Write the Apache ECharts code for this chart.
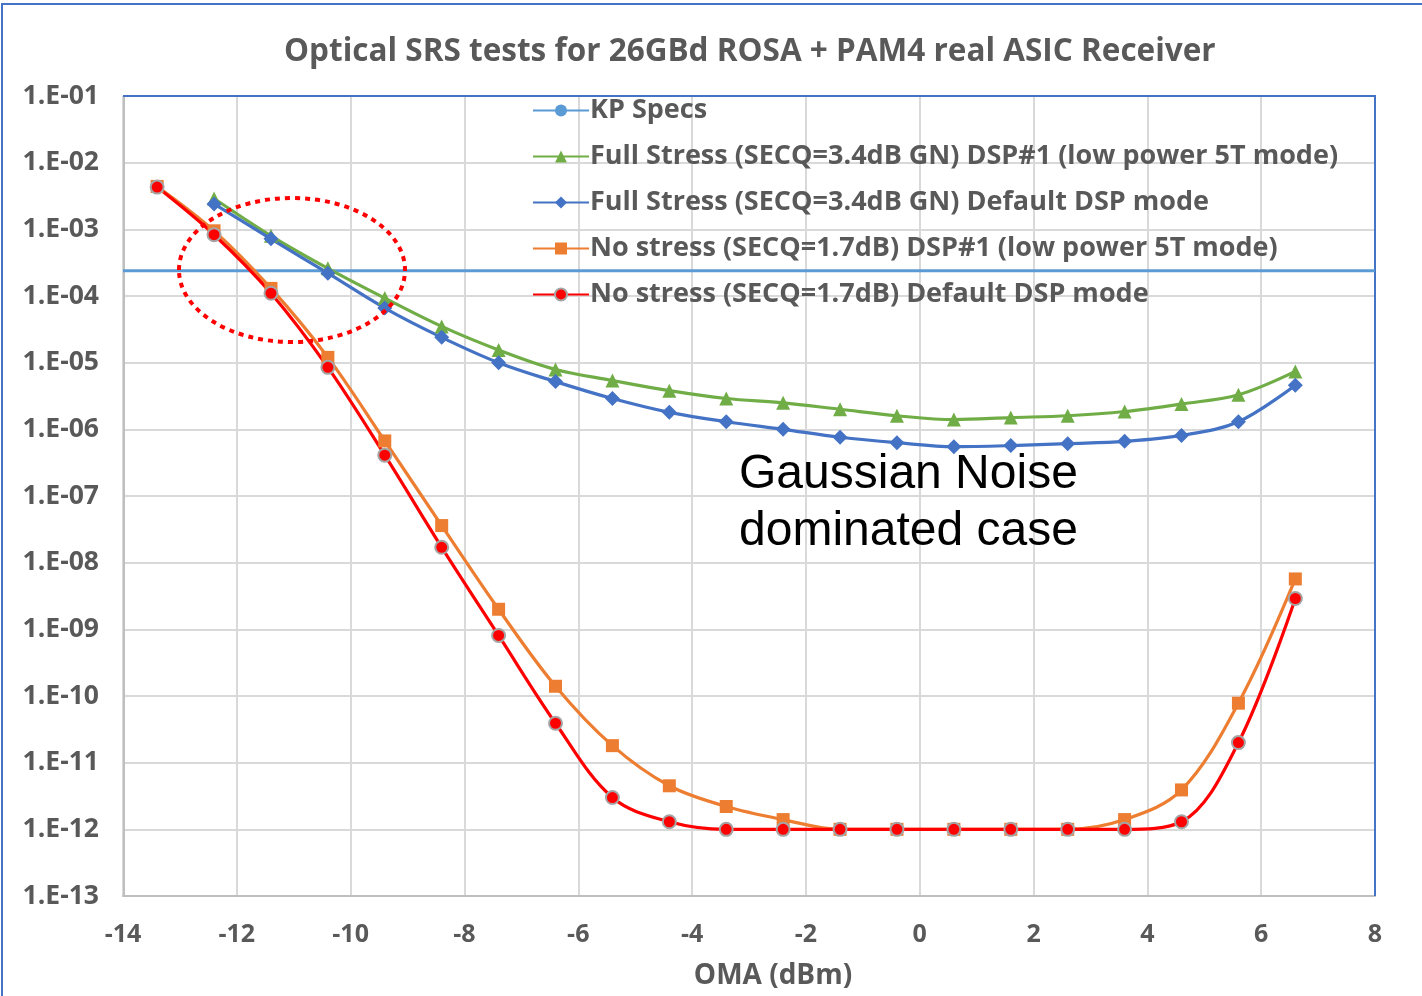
<!DOCTYPE html>
<html>
<head>
<meta charset="utf-8">
<title>Optical SRS tests</title>
<script src="https://cdn.jsdelivr.net/npm/echarts@6/dist/echarts.min.js"></script>
<style>
  html, body { margin: 0; padding: 0; background: #fff; }
  #chart { width: 1422px; height: 996px; }
</style>
</head>
<body>
<div id="chart"></div>
<script>
// OMA points (dBm)
const oma = [-13.4, -12.4, -11.4, -10.4, -9.4, -8.4, -7.4, -6.4, -5.4, -4.4, -3.4,
  -2.4, -1.4, -0.4, 0.6, 1.6, 2.6, 3.6, 4.6, 5.6, 6.6]

const kpSpec = 2.4e-4
const kpRange = [-14, 8]

// null = no measurement at that OMA
const fullStressDsp1 = [null, 2.9e-3, 8.0e-4, 2.6e-4, 9.3e-5, 3.5e-5, 1.55e-5, 7.9e-6, 5.4e-6, 3.8e-6, 2.9e-6,
  2.5e-6, 2.0e-6, 1.6e-6, 1.4e-6, 1.5e-6, 1.6e-6, 1.85e-6, 2.4e-6, 3.3e-6, 7.4e-6]
const fullStressDefault = [null, 2.4e-3, 7.2e-4, 2.2e-4, 6.6e-5, 2.4e-5, 1.0e-5, 5.2e-6, 2.9e-6, 1.8e-6, 1.3e-6,
  1.0e-6, 7.6e-7, 6.3e-7, 5.5e-7, 5.7e-7, 6.1e-7, 6.6e-7, 8.1e-7, 1.3e-6, 4.6e-6]
const noStressDsp1 = [4.4e-3, 9.5e-4, 1.3e-4, 1.2e-5, 6.7e-7, 3.6e-8, 2.0e-9, 1.4e-10, 1.8e-11, 4.5e-12, 2.2e-12,
  1.4e-12, 1e-12, 1e-12, 1e-12, 1e-12, 1e-12, 1.4e-12, 3.9e-12, 7.8e-11, 5.7e-9]
const noStressDefault = [4.3e-3, 8.3e-4, 1.1e-4, 8.5e-6, 4.1e-7, 1.7e-8, 8.1e-10, 3.9e-11, 3.0e-12, 1.3e-12, 1e-12,
  1e-12, 1e-12, 1e-12, 1e-12, 1e-12, 1e-12, 1e-12, 1.3e-12, 2.0e-11, 2.9e-9]

const seriesNames = [
  'KP Specs',
  'Full Stress (SECQ=3.4dB GN) DSP#1 (low power 5T mode)',
  'Full Stress (SECQ=3.4dB GN) Default DSP mode',
  'No stress (SECQ=1.7dB) DSP#1 (low power 5T mode)',
  'No stress (SECQ=1.7dB) Default DSP mode'
]

const pairs = vals => oma.map((x, i) => [x, vals[i]]).filter(p => p[1] !== null)

const textGrey = '#595959'
const uiFont = '"Open Sans", "Noto Sans", sans-serif'

const chart = echarts.init(document.getElementById('chart'))

const lineSeries = (name, vals, color, symbol, size, extra) => Object.assign({
  name,
  type: 'line',
  data: pairs(vals),
  smooth: 0.35,
  symbol,
  symbolSize: size,
  showAllSymbol: true,
  lineStyle: { color, width: 3.2 },
  itemStyle: { color },
  emphasis: { disabled: true }
}, extra || {})

chart.setOption({
  animation: false,
  title: {
    text: 'Optical SRS tests for 26GBd ROSA + PAM4 real ASIC Receiver',
    left: 279,
    top: 31,
    textStyle: { fontFamily: uiFont, fontSize: 31.5, fontWeight: 'bold', color: textGrey }
  },
  legend: {
    orient: 'vertical',
    left: 527,
    top: 90,
    itemWidth: 56,
    itemHeight: 15,
    itemGap: 15,
    data: seriesNames,
    textStyle: { fontFamily: uiFont, fontSize: 27, fontWeight: 'bold', color: textGrey, lineHeight: 31, padding: [0, 0, 0, -4] }
  },
  grid: {
    left: 123,
    right: 47,
    top: 96,
    bottom: 100,
    outerBoundsMode: 'none',
    show: false
  },
  xAxis: {
    type: 'value',
    min: -14,
    max: 8,
    interval: 2,
    name: 'OMA (dBm)',
    nameLocation: 'middle',
    nameGap: 66,
    nameTextStyle: { fontFamily: uiFont, fontSize: 28, fontWeight: 'bold', color: textGrey, padding: [0, 0, 0, 48] },
    axisLine: { show: true, onZero: false, lineStyle: { color: '#BFBFBF', width: 2 } },
    axisTick: { show: false },
    axisLabel: { fontFamily: uiFont, fontSize: 25, fontWeight: 'bold', color: textGrey, margin: 26 },
    splitLine: { show: true, showMaxLine: false, lineStyle: { color: '#D9D9D9', width: 2 } }
  },
  yAxis: {
    type: 'log',
    logBase: 10,
    min: 1e-13,
    max: 1e-1,
    interval: 1,
    axisLine: { show: false },
    axisTick: { show: false },
    axisLabel: {
      fontFamily: uiFont, fontSize: 26.5, fontWeight: 'bold', color: textGrey, margin: 24,
      formatter: v => {
        const e = Math.round(Math.log10(v))
        return '1.E' + (e < 0 ? '-' : '+') + String(Math.abs(e)).padStart(2, '0')
      }
    },
    splitLine: { show: true, showMaxLine: false, lineStyle: { color: '#D9D9D9', width: 2 } }
  },
  series: [
    {
      name: seriesNames[0],
      type: 'line',
      data: kpRange.map(x => ({ value: [x, kpSpec], symbol: 'none' })),
      symbol: 'circle',
      symbolSize: 15,
      lineStyle: { color: '#5B9BD5', width: 3 },
      itemStyle: { color: '#5B9BD5' },
      emphasis: { disabled: true },
      z: 1
    },
    lineSeries(seriesNames[1], fullStressDsp1, '#70AD47', 'triangle', 14),
    lineSeries(seriesNames[2], fullStressDefault, '#4472C4', 'diamond', 15),
    lineSeries(seriesNames[3], noStressDsp1, '#ED7D31', 'rect', 13),
    lineSeries(seriesNames[4], noStressDefault, '#FF0000', 'circle', 13, {
      itemStyle: { color: '#FF0000', borderColor: '#A5A5A5', borderWidth: 2 }
    })
  ],
  graphic: [
    {
      type: 'rect',
      shape: { x: 2, y: 4, width: 1440, height: 1010 },
      style: { fill: 'none', stroke: '#4472C4', lineWidth: 2 },
      silent: true
    },
    {
      // plot area frame: grey value axis on the left, blue border top and right
      type: 'polyline',
      shape: { points: [[124, 896], [124, 96]] },
      style: { fill: 'none', stroke: '#BFBFBF', lineWidth: 2 },
      silent: true,
      z: 1
    },
    {
      type: 'polyline',
      shape: { points: [[123, 96], [1375, 96], [1375, 896]] },
      style: { fill: 'none', stroke: '#4472C4', lineWidth: 2 },
      silent: true,
      z: 1
    },
    {
      type: 'ellipse',
      shape: { cx: 292, cy: 270, rx: 113, ry: 72 },
      style: { fill: 'none', stroke: '#FF0000', lineWidth: 4, lineDash: [5, 5] },
      silent: true,
      z: 100
    },
    {
      type: 'text',
      left: 739,
      top: 446,
      style: {
        text: 'Gaussian Noise\ndominated case',
        font: '48px "Liberation Sans", Arial, sans-serif',
        lineHeight: 57,
        fill: '#000'
      },
      silent: true,
      z: 100
    }
  ]
})
</script>
</body>
</html>
